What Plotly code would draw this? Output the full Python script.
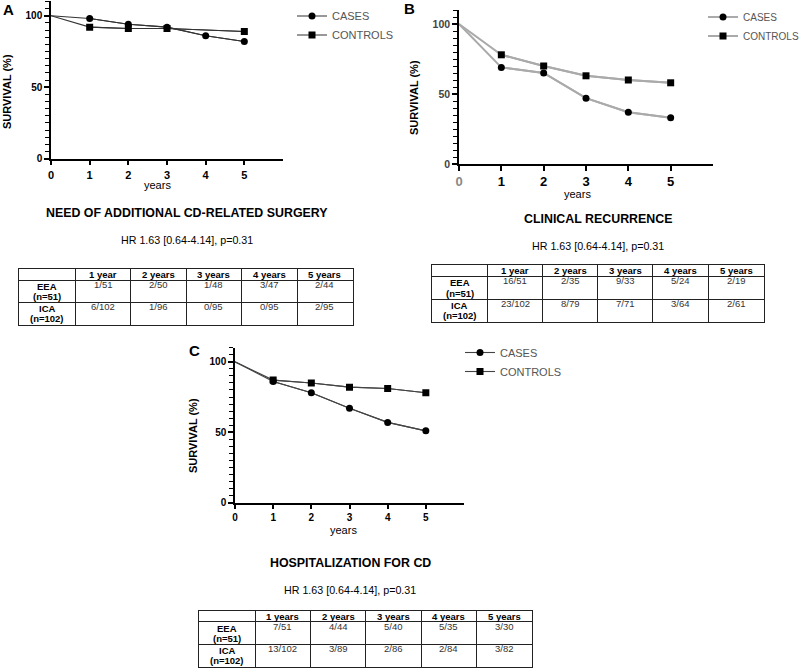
import plotly.graph_objects as go

# ---------------- data ----------------
years = [0, 1, 2, 3, 4, 5]

a_cases = [100, 98, 94, 92, 86, 82]
a_ctrl_years = [0, 1, 2, 3, 5]
a_controls = [100, 92, 91, 91, 89]

b_cases = [100, 69, 65, 47, 37, 33]
b_controls = [100, 78, 70, 63, 60, 58]

c_cases = [100, 86, 78, 67, 57, 51]
c_controls = [100, 87, 85, 82, 81, 78]

x_ticks = ["0", "1", "2", "3", "4", "5"]
y_ticks = ["0", "50", "100"]

col_headers_ab = ["1 year", "2 years", "3 years", "4 years", "5 years"]
col_headers_c = ["1 years", "2 years", "3 years", "4 years", "5 years"]
row_labels = [("EEA", "(n=51)"), ("ICA", "(n=102)")]

a_eea = ["1/51", "2/50", "1/48", "3/47", "2/44"]
a_ica = ["6/102", "1/96", "0/95", "0/95", "2/95"]
b_eea = ["16/51", "2/35", "9/33", "5/24", "2/19"]
b_ica = ["23/102", "8/79", "7/71", "3/64", "2/61"]
c_eea = ["7/51", "4/44", "5/40", "5/35", "3/30"]
c_ica = ["13/102", "3/89", "2/86", "2/84", "3/82"]

titles = ["NEED OF ADDITIONAL CD-RELATED SURGERY", "CLINICAL RECURRENCE", "HOSPITALIZATION FOR CD"]
hr_text = "HR 1.63 [0.64-4.14], p=0.31"

# table structure (relative units)
col_widths = [56, 55.4, 55.3, 55.3, 55.7, 55.7]
row_heights = [1, 2, 2]

W, H = 800, 668
FONT = "Liberation Sans, Arial, sans-serif"


def X(px):
    return px / W


def Y(py):
    return 1 - py / H


def grey0(labels, color):
    return ["<span style='color:%s'>%s</span>" % (color, labels[0])] + labels[1:]


fig = go.Figure()
ann = []

panels = [
    dict(key="", cases=a_cases, cx=years, ctrl=a_controls, kx=a_ctrl_years,
         xd=(51, 283), yd=(158.7, 1.4), line="#333333", lw=1.1,
         legend="legend", lx=292, ly=1.5, lfs=11, xfs=11, yfs=10,
         xt=x_ticks, yt=y_ticks, ycol="black"),
    dict(key="2", cases=b_cases, cx=years, ctrl=b_controls, kx=years,
         xd=(459, 713), yd=(164, 10), line="#aaaaaa", lw=2,
         legend="legend2", lx=703, ly=2.5, lfs=10, xfs=13, yfs=10.5,
         xt=grey0(x_ticks, "#888888"), yt=y_ticks, ycol="#444444"),
    dict(key="3", cases=c_cases, cx=years, ctrl=c_controls, kx=years,
         xd=(235, 464), yd=(502.7, 347.7), line="#444444", lw=1.1,
         legend="legend3", lx=460, ly=338, lfs=11, xfs=10, yfs=10,
         xt=x_ticks, yt=y_ticks, ycol="black"),
]

for p in panels:
    xa = "x" + p["key"]
    ya = "y" + p["key"]
    for xs, ys in [(p["kx"], p["ctrl"]), (p["cx"], p["cases"])]:
        fig.add_trace(go.Scatter(x=xs, y=ys, mode="lines", xaxis=xa, yaxis=ya,
                                 line=dict(color=p["line"], width=p["lw"]),
                                 showlegend=False, hoverinfo="skip"))
    for name, xs, ys, sym, rank in [("CONTROLS", p["kx"], p["ctrl"], "square", 2),
                                    ("CASES", p["cx"], p["cases"], "circle", 1)]:
        fig.add_trace(go.Scatter(x=xs[1:], y=ys[1:], mode="lines+markers", name=name,
                                 xaxis=xa, yaxis=ya, legend=p["legend"], legendrank=rank,
                                 line=dict(color=p["line"], width=p["lw"]),
                                 marker=dict(symbol=sym, size=7, color="black")))

    axis_common = dict(showgrid=False, zeroline=False, showline=True, linecolor="black",
                       linewidth=1.5, ticks="outside", tickcolor="black", tickwidth=1.5,
                       ticklen=5)
    fig.update_layout(**{
        "xaxis" + p["key"]: dict(domain=[X(p["xd"][0]), X(p["xd"][1])], range=[0, 6],
                                 tickvals=years, ticktext=p["xt"], anchor=ya,
                                 tickfont=dict(family=FONT, size=p["xfs"], color="black", weight="bold"),
                                 **axis_common),
        "yaxis" + p["key"]: dict(domain=[Y(p["yd"][0]), Y(p["yd"][1])], range=[0, 110],
                                 tickvals=[0, 50, 100], ticktext=p["yt"], anchor=xa,
                                 minor=dict(dtick=5, ticks="outside", ticklen=4, tickcolor="black", tickwidth=1),
                                 tickfont=dict(family=FONT, size=p["yfs"], color=p["ycol"], weight="bold"),
                                 **axis_common),
        p["legend"]: dict(x=X(p["lx"]), y=Y(p["ly"]), xanchor="left", yanchor="top",
                          font=dict(family=FONT, size=p["lfs"], color="#555555"),
                          bgcolor="rgba(0,0,0,0)", itemwidth=30, tracegroupgap=0),
    })


def add_table(idx, xd, yd, headers, eea, ica):
    xa, ya = "x%d" % idx, "y%d" % idx
    xb = [0]
    for w in col_widths:
        xb.append(xb[-1] + w)
    yb = [0]
    for h in row_heights:
        yb.append(yb[-1] + h)
    grid = dict(showgrid=True, gridcolor="#222222", gridwidth=1, zeroline=False,
                showline=True, mirror=True, linecolor="#222222", linewidth=1,
                ticks="", showticklabels=False, fixedrange=True)
    fig.update_layout(**{
        "xaxis%d" % idx: dict(domain=[X(xd[0]), X(xd[1])], range=[0, xb[-1]],
                              tickvals=xb[1:-1], anchor=ya, **grid),
        "yaxis%d" % idx: dict(domain=[Y(yd[1]), Y(yd[0])], range=[yb[-1], 0],
                              tickvals=yb[1:-1], anchor=xa, **grid),
    })
    centers = [(xb[i] + xb[i + 1]) / 2 for i in range(len(col_widths))]
    # invisible trace so the axes exist
    fig.add_trace(go.Scatter(x=[centers[0]], y=[yb[1]], mode="markers", xaxis=xa, yaxis=ya,
                             marker=dict(opacity=0), showlegend=False, hoverinfo="skip"))
    for c, h in zip(centers[1:], headers):
        ann.append(dict(text="<b>%s</b>" % h, x=c, y=(yb[0] + yb[1]) / 2, xref=xa, yref=ya,
                        showarrow=False, xanchor="center", yanchor="middle",
                        font=dict(family=FONT, size=9.5, color="black")))
    for r, (lab, vals) in enumerate(zip(row_labels, [eea, ica])):
        top = yb[r + 1]
        ann.append(dict(text="<b>%s</b>" % lab[0], x=centers[0], y=top + 0.55, xref=xa, yref=ya,
                        showarrow=False, xanchor="center", yanchor="middle",
                        font=dict(family=FONT, size=9.5, color="black")))
        ann.append(dict(text="<b>%s</b>" % lab[1], x=centers[0], y=top + 1.48, xref=xa, yref=ya,
                        showarrow=False, xanchor="center", yanchor="middle",
                        font=dict(family=FONT, size=9.5, color="black")))
        for c, v in zip(centers[1:], vals):
            ann.append(dict(text=v, x=c, y=top + 0.38, xref=xa, yref=ya,
                            showarrow=False, xanchor="center", yanchor="middle",
                            font=dict(family=FONT, size=9.5, color="#333333")))


add_table(4, (19.3, 352.7), (269.3, 324.7), col_headers_ab, a_eea, a_ica)
add_table(5, (431.7, 764), (265.3, 321.7), col_headers_ab, b_eea, b_ica)
add_table(6, (199.3, 532.3), (610.7, 666.5), col_headers_c, c_eea, c_ica)

# panel letters
for letter, px, py in [("A", 8, 10), ("B", 410, 9), ("C", 194, 350)]:
    ann.append(dict(text="<b>%s</b>" % letter, x=X(px), y=Y(py), xref="paper", yref="paper",
                    xanchor="center", yanchor="middle",
                    showarrow=False, font=dict(family=FONT, size=15, color="black")))
# axis titles
for px, py in [(7, 92), (414, 97), (193, 436)]:
    ann.append(dict(text="<b>SURVIVAL (%)</b>", x=X(px), y=Y(py), xref="paper", yref="paper",
                    xanchor="center", yanchor="middle",
                    showarrow=False, textangle=-90, font=dict(family=FONT, size=11, color="black")))
for px, py in [(157, 185), (577, 194), (343, 530)]:
    ann.append(dict(text="years", x=X(px), y=Y(py), xref="paper", yref="paper",
                    xanchor="center", yanchor="middle",
                    showarrow=False, font=dict(family=FONT, size=11, color="black")))
# titles and HR
for t, px, py, hy in [(titles[0], 187, 213.3, 240), (titles[1], 598, 219.3, 246), (titles[2], 350, 562.7, 590)]:
    ann.append(dict(text="<b>%s</b>" % t, x=X(px), y=Y(py), xref="paper", yref="paper",
                    xanchor="center", yanchor="middle",
                    showarrow=False, font=dict(family=FONT, size=12.4, color="black")))
    ann.append(dict(text=hr_text, x=X(px), y=Y(hy), xref="paper", yref="paper",
                    xanchor="center", yanchor="middle",
                    showarrow=False, font=dict(family=FONT, size=10.7, color="black")))

fig.update_layout(width=W, height=H, margin=dict(l=0, r=0, t=0, b=0, autoexpand=False),
                  paper_bgcolor="white", plot_bgcolor="white",
                  font=dict(family=FONT), annotations=ann)

fig.write_html("out.html")
